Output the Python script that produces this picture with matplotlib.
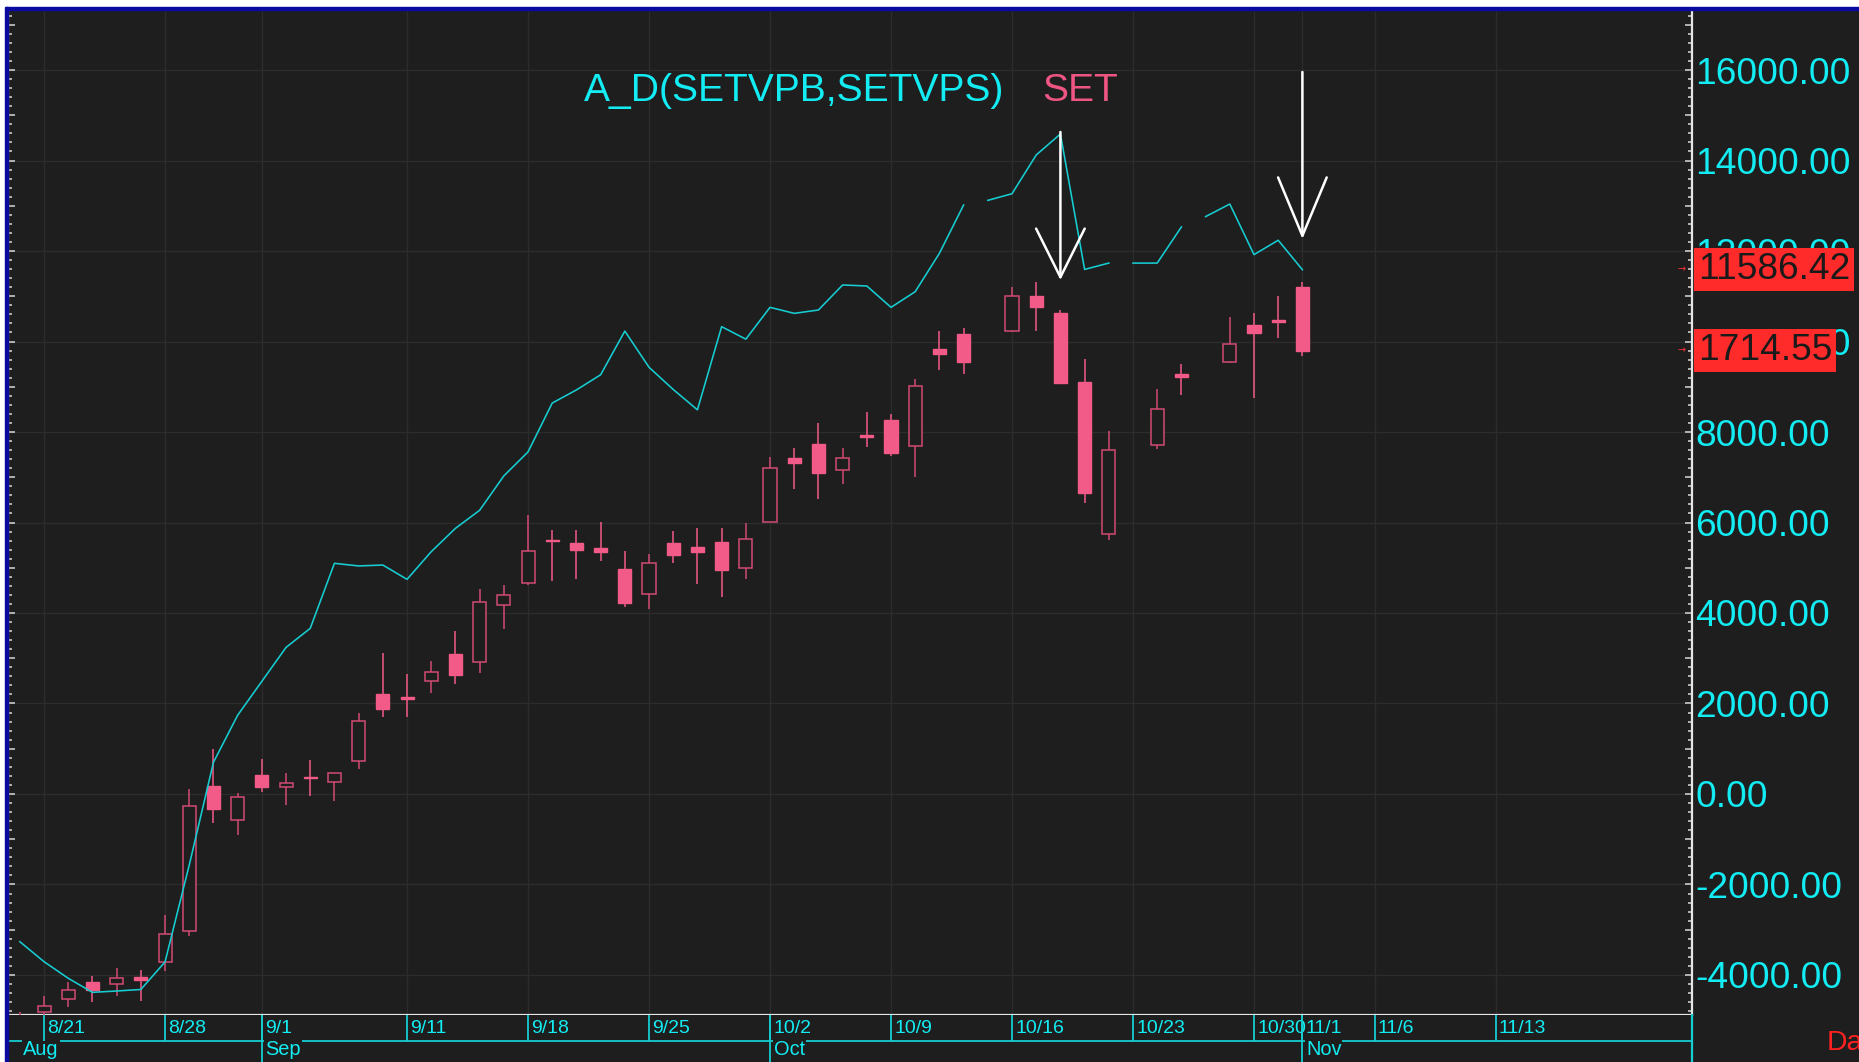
import pandas as pd
import numpy as np
import matplotlib
matplotlib.use('Agg')
import matplotlib.pyplot as plt
import matplotlib.transforms as mtransforms
from matplotlib.patches import Rectangle
from matplotlib.ticker import MultipleLocator, FuncFormatter
from matplotlib import font_manager

# --- fonts: the terminal uses a narrow sans ---
names = {f.name for f in font_manager.fontManager.ttflist}
if 'Liberation Sans Narrow' in names:
    FONT, FS = 'Liberation Sans Narrow', 1.0
else:
    FONT, FS = 'Liberation Sans', 0.85
plt.rcParams['font.family'] = [FONT, 'DejaVu Sans']

# --- data ---
ad_dates = pd.bdate_range('2017-08-18', '2017-11-01')
holidays = ['2017-10-13', '2017-10-23', '2017-10-26']   # no SET bar, A_D line breaks before them

ad_values = [-3264, -3706, -4073, -4383, -4354, -4320, -3710, -1570, 700, 1740,
             2490, 3240, 3661, 5098, 5040, 5060, 4744, 5355, 5871, 6270,
             7030, 7560, 8640, 8930, 9265, 10230, 9430, 8940, 8490, 10328,
             10052, 10755, 10622, 10696, 11249, 11227, 10755, 11101, 11949, 13017,
             13119, 13266, 14122, 14586, 11593, 11733, 11733, 11733, 12532, 12760,
             13038, 11920, 12238, 11586.42]

set_open = [1557.5, 1560.7, 1563.8, 1567.7, 1567.2, 1568.8, 1572.4, 1579.5, 1613.3, 1605.4,
            1615.8, 1613.1, 1615.5, 1614.2, 1619.1, 1634.7, 1634.0, 1637.6, 1644.1, 1642.2,
            1655.5, 1660.4, 1670.4, 1669.7, 1668.7, 1663.8, 1657.9, 1669.7, 1668.9, 1670.1,
            1663.9, 1674.8, 1689.6, 1692.8, 1686.7, 1694.9, 1698.4, 1692.4, 1714.9, 1718.5,
            1719.0, 1727.2, 1723.4, 1707.2, 1671.8, 1692.5, 1709.1, 1712.0, 1720.6, 1721.6,
            1729.4]
set_high = [1560.8, 1564.5, 1567.8, 1569.2, 1571.0, 1570.5, 1583.2, 1612.7, 1621.8, 1611.6,
            1619.6, 1616.4, 1619.3, 1616.4, 1630.2, 1644.2, 1639.3, 1642.4, 1649.4, 1659.0,
            1660.0, 1676.4, 1672.8, 1672.8, 1674.6, 1668.0, 1667.3, 1672.6, 1673.2, 1673.2,
            1674.4, 1689.7, 1691.8, 1697.8, 1691.8, 1700.3, 1699.9, 1707.9, 1719.1, 1719.9,
            1729.3, 1730.4, 1724.1, 1712.6, 1695.8, 1705.6, 1711.5, 1722.4, 1723.4, 1727.3,
            1730.4]
set_low = [1554.0, 1558.5, 1562.0, 1563.1, 1564.5, 1563.4, 1570.3, 1578.4, 1604.8, 1601.9,
           1612.0, 1608.9, 1611.0, 1609.9, 1617.3, 1629.4, 1629.4, 1634.9, 1637.0, 1639.6,
           1649.9, 1660.0, 1661.0, 1661.4, 1665.6, 1655.0, 1654.4, 1665.2, 1660.3, 1657.2,
           1661.4, 1674.6, 1682.4, 1680.0, 1683.5, 1692.2, 1690.1, 1685.2, 1710.0, 1709.1,
           1718.8, 1719.2, 1707.0, 1679.0, 1670.6, 1691.7, 1704.2, 1711.6, 1703.5, 1717.5,
           1713.4]
set_close = [1558.8, 1562.1, 1565.9, 1565.9, 1568.7, 1568.2, 1578.9, 1608.7, 1607.9, 1610.8,
             1613.1, 1613.9, 1615.2, 1616.4, 1628.3, 1631.3, 1633.5, 1639.9, 1639.0, 1656.0,
             1657.7, 1667.9, 1670.2, 1668.1, 1667.7, 1655.8, 1665.1, 1667.0, 1667.7, 1663.5,
             1670.7, 1687.2, 1688.3, 1686.0, 1689.6, 1694.5, 1690.8, 1706.4, 1713.7, 1712.0,
             1727.2, 1724.6, 1707.1, 1681.5, 1691.5, 1700.9, 1708.5, 1716.0, 1718.7, 1721.1,
             1714.55]

tick_dates = ['2017-08-21', '2017-08-28', '2017-09-01', '2017-09-11', '2017-09-18', '2017-09-25',
              '2017-10-02', '2017-10-09', '2017-10-16', '2017-10-23', '2017-10-30', '2017-11-01',
              '2017-11-06', '2017-11-13']
tick_labels = ['8/21', '8/28', '9/1', '9/11', '9/18', '9/25', '10/2', '10/9', '10/16',
               '10/23', '10/30', '11/1', '11/6', '11/13']
month_dates = ['2017-08-18', '2017-09-01', '2017-10-02', '2017-11-01']
month_labels = ['Aug', 'Sep', 'Oct', 'Nov']

arrow_dates = ['2017-10-18', '2017-11-01']
arrow_tail = [14630, 15956]
arrow_tip = [11359, 12265]

last_ad = ad_values[-1]
last_set = set_close[-1]

# --- colours ---
BG = '#1e1e1e'
GRID = '#2c2c2c'
CYAN = '#12ecf2'
LINE = '#16cdd2'
PINK = '#f25a87'
PINK_DARK = '#d24b74'
BLUE = '#0a0aa0'

# x positions: every weekday is a slot on the axis
days = pd.bdate_range('2017-08-18', '2017-11-24')
pos = {d: i for i, d in enumerate(days)}
def xpos(dates):
    return np.array([pos[pd.Timestamp(d)] for d in dates])

ad_x = xpos(ad_dates)
hol = set(pd.to_datetime(holidays))
set_x = np.array([pos[d] for d in ad_dates if d not in hol])

W, H = 1859, 1062
fig = plt.figure(figsize=(W / 100, H / 100), dpi=100, facecolor=BG)

L, R, B, T = 8, 1692, 1015, 10
ax = fig.add_axes([L / W, (H - B) / H, (R - L) / W, (B - T) / H])
ax.set_facecolor(BG)
ax_set = ax.twinx()

x_lim = (-0.49, 69.1)
ax.set_xlim(*x_lim)
ax.set_ylim(-4884, 17326)
ax_set.set_ylim(1560.04, 1793.76)

# grid
ax.set_xticks(xpos(tick_dates))
ax.grid(axis='x', color=GRID, lw=1.0)
ax.tick_params(axis='x', length=0, labelbottom=False)
for v in np.arange(-4000, 17001, 2000):
    ax.axhline(v, color=GRID, lw=1.0, zorder=0)

# y ticks (A_D scale), labels on the right
ax.yaxis.set_major_locator(MultipleLocator(1000))
ax.yaxis.set_minor_locator(MultipleLocator(200))
ax.yaxis.set_major_formatter(FuncFormatter(
    lambda v, p: f'{v + 0:.2f}' if round(v) % 2000 == 0 else ''))
ax.yaxis.set_ticks_position('both')
ax.tick_params(axis='y', which='both', direction='in', color='#d8d8d8', width=1.1,
               labelleft=False, labelright=True, labelcolor=CYAN,
               labelsize=31.5 * FS, pad=2.5)
ax.tick_params(axis='y', which='major', length=4.8)
ax.tick_params(axis='y', which='minor', length=2.6)
for s in ['left', 'right', 'bottom']:
    ax.spines[s].set_color('#e6e6e6')
    ax.spines[s].set_linewidth(1.6)
ax.spines['top'].set_visible(False)

ax_set.yaxis.set_visible(False)
for s in ax_set.spines.values():
    s.set_visible(False)

# candles
o, h, l, c = map(np.array, (set_open, set_high, set_low, set_close))
down = c < o
ax_set.vlines(set_x[down], l[down], h[down], color=PINK, lw=1.1, zorder=2)
ax_set.vlines(set_x[~down], l[~down], h[~down], color=PINK_DARK, lw=1.1, zorder=2)
ax_set.bar(set_x[down], (o - c)[down], bottom=c[down], width=0.54,
           color=PINK, edgecolor=PINK, lw=1.0, zorder=3)
ax_set.bar(set_x[~down], np.maximum(c - o, 0.15)[~down], bottom=o[~down], width=0.54,
           color=BG, edgecolor=PINK_DARK, lw=1.1, zorder=3)

# A_D line, broken before each holiday point
ad_v = np.array(ad_values, dtype=float)
hol_idx = [i for i, d in enumerate(ad_dates) if d in hol]
bounds = [0] + hol_idx + [len(ad_v)]
for a, b in zip(bounds[:-1], bounds[1:]):
    ax_set.plot(ad_x[a:b], ad_v[a:b], color=LINE, lw=1.15, zorder=4,
                transform=ax.transData)

# white arrows
for d, t0, t1 in zip(arrow_dates, arrow_tail, arrow_tip):
    xd = pos[pd.Timestamp(d)]
    hl = 3.5 if t0 - t1 < 3500 else 4.2
    ax_set.annotate('', xy=(xd, t1), xytext=(xd, t0),
                    xycoords=ax.transData, textcoords=ax.transData,
                    arrowprops=dict(arrowstyle=f'->,head_length={hl},head_width=1.75',
                                    color='white', lw=1.8, shrinkA=0, shrinkB=0,
                                    mutation_scale=10),
                    zorder=6)

# titles
fig.text(584 / W, (H - 101) / H, 'A_D(SETVPB,SETVPS)', color=CYAN,
         fontsize=33 * FS, va='baseline', ha='left')
fig.text(1042 / W, (H - 101) / H, 'SET', color='#ee5582',
         fontsize=33 * FS, va='baseline', ha='left')

# last-value boxes on the right scale
tr_ad = mtransforms.blended_transform_factory(fig.transFigure, ax.transData)
tr_set = mtransforms.blended_transform_factory(fig.transFigure, ax_set.transData)
for tr, val in [(tr_ad, last_ad), (tr_set, last_set)]:
    fig.text(1698 / W, val, f'{val:.2f}', transform=tr, color='#1a1a1a',
             fontsize=31.5 * FS, va='center', ha='left', zorder=5,
             bbox=dict(boxstyle='square,pad=0.1', fc='#ff2a2a', ec='none'))
    fig.text(1677 / W, val, '→', transform=tr, color='#ff3030',
             fontsize=7, va='center', ha='left', zorder=5,
             family=['DejaVu Sans'])

# date strip below the plot
axd = fig.add_axes([L / W, 0, (R - L) / W, (H - B) / H])
axd.set_facecolor(BG)
axd.set_xlim(*x_lim)
axd.set_ylim(H - B, 0)
axd.set_xticks([])
axd.set_yticks([])
for s in ['left', 'top', 'bottom']:
    axd.spines[s].set_visible(False)
axd.spines['right'].set_color(LINE)
axd.spines['right'].set_linewidth(1.6)
axd.axhline(26, color=LINE, lw=1.3, zorder=1)
axd.vlines(xpos(tick_dates), 0, 26, color=LINE, lw=1.3, zorder=4)
axd.vlines(xpos(month_dates[1:]), 0, H - B, color=LINE, lw=1.3, zorder=4)
lab_tr = mtransforms.offset_copy(axd.transData, fig=fig, x=3, y=0, units='dots')
for xv, s in zip(xpos(tick_dates), tick_labels):
    axd.text(xv, 13.5, s, transform=lab_tr, color=CYAN, fontsize=16.5 * FS,
             va='center', ha='left')
mon_tr = mtransforms.offset_copy(axd.transData, fig=fig, x=3.5, y=0, units='dots')
for xv, s in zip(xpos(month_dates), month_labels):
    axd.text(xv, 25, s, transform=mon_tr, color=CYAN, fontsize=17 * FS,
             va='top', ha='left', zorder=3, clip_on=False,
             bbox=dict(boxstyle='square,pad=0.05', fc=BG, ec='none'))

fig.text(1827 / W, (H - 1043) / H, 'Daily', color='#ff2020', fontsize=24 * FS,
         va='center', ha='left')

# window frame: white strip and blue border top / left
fig.patches.extend([
    Rectangle((0, (H - 7) / H), 1, 7 / H, transform=fig.transFigure, color='white', zorder=10),
    Rectangle((0, (H - 10) / H), 1, 3 / H, transform=fig.transFigure, color=BLUE, zorder=10),
    Rectangle((0, 0), 5 / W, 1, transform=fig.transFigure, color='white', zorder=10),
    Rectangle((5 / W, 0), 2.5 / W, (H - 7) / H, transform=fig.transFigure, color=BLUE, zorder=10),
])

fig.savefig('out.png', dpi=100, facecolor=BG)
